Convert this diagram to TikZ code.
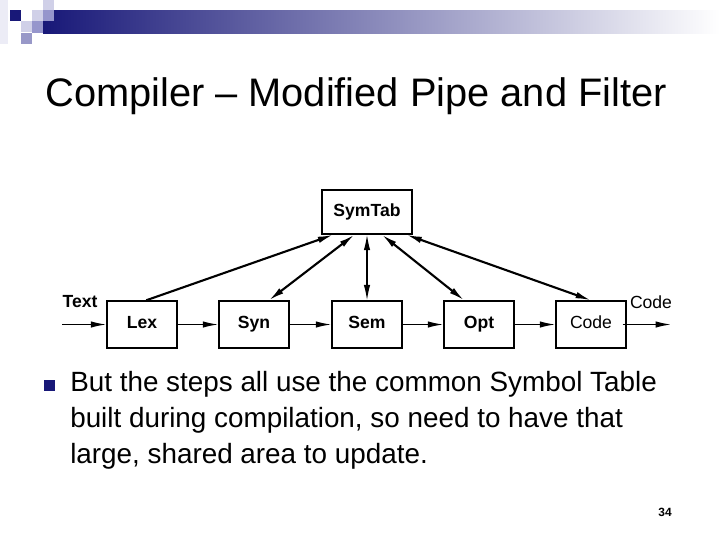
\documentclass[tikz,border=0pt]{standalone}
\usepackage{fontspec}
\setmainfont{Liberation Sans}
\usetikzlibrary{arrows.meta, positioning, calc}

\definecolor{slidenavy}{RGB}{24,24,120}
\definecolor{lightlav}{RGB}{208,208,232}
\definecolor{midlav}{RGB}{150,150,204}
\definecolor{greylav}{RGB}{152,152,200}

\begin{document}
\begin{tikzpicture}[
    x=0.025cm, y=-0.025cm,
    >={Latex[length=11pt,width=4.6pt]},
    stage/.style={draw, rectangle, minimum width=1.75cm, minimum height=1.175cm, inner sep=0pt, align=center, font=\fontsize{12.5}{14}\selectfont\bfseries, text height=8.9pt, text depth=2.6pt, fill=white, line width=1pt},
    symstore/.style={stage, minimum width=2.25cm, minimum height=1.1cm},
    pipe/.style={->, line width=1pt},
    link/.style={line width=1.5pt},
    tag/.style={font=\fontsize{12.5}{14}\selectfont\bfseries, inner sep=0pt}
]
\useasboundingbox (0,0) rectangle (720,540);

% -------------------------------------------------------------------------
% Slide header: squares and fading bar
% -------------------------------------------------------------------------
\fill[lightlav!40] (0,0) rectangle (8,44);
\shade[left color=slidenavy, right color=white] (43,10) rectangle (720,33);
\fill[slidenavy] (10,10) rectangle (21,21);
\fill[lightlav] (32,10) rectangle (43,21);
\fill[lightlav] (43,0) rectangle (54,10);
\fill[midlav] (43,10) rectangle (54,21);
\fill[lightlav] (21,21) rectangle (32,32);
\fill[midlav] (32,21) rectangle (43,33);
\fill[greylav] (21,33) rectangle (32,44);

% Title
\node[anchor=base west, inner sep=0pt, font=\fontsize{28.3}{32}\selectfont] (title) at (45,106) {Compiler -- Modified Pipe and Filter};

% -------------------------------------------------------------------------
% Pipeline row (y = 324) and symbol table
% -------------------------------------------------------------------------
\node[symstore] (SymTab) at (367,212) {SymTab};

\node[stage] (Lex) at (142,324.5) {Lex};
\node[stage] (Syn) at (254,324.5) {Syn};
\node[stage] (Sem) at (367,324.5) {Sem};
\node[stage] (Opt) at (479,324.5) {Opt};
\node[stage, font=\fontsize{12.5}{14}\selectfont] (Code) at (591,324.5) {Code};

% Outer labels and free ends
\node[tag] (TextIn) at (80,302) {Text};
\node[tag, font=\fontsize{12.5}{14}\selectfont] (CodeOut) at (651,302) {Code};
\coordinate (inStart) at (62,324.5);
\coordinate (outEnd) at (671,324.5);

% Pipes between filters
\draw[pipe] (inStart) -- (Lex.west);
\draw[pipe] (Lex.east) -- (Syn.west);
\draw[pipe] (Syn.east) -- (Sem.west);
\draw[pipe] (Sem.east) -- (Opt.west);
\draw[pipe] (Opt.east) -- (Code.west);
\draw[pipe] ([xshift=-3pt]Code.east) -- (outEnd);

% Links up to the shared symbol table
\draw[link, ->] ([xshift=3pt]Lex.north) -- ([xshift=-24pt]SymTab.south);
\draw[link, <->] ([xshift=10.6pt]Syn.north) -- ([xshift=-9pt]SymTab.south);
\draw[link, <->, line width=0.9pt] (Sem.north) -- (SymTab.south);
\draw[link, <->] ([xshift=-10.6pt]Opt.north) -- ([xshift=10.6pt]SymTab.south);
\draw[link, <->] (Code.north) -- ([xshift=28pt]SymTab.south);

% -------------------------------------------------------------------------
% Bullet text and page number
% -------------------------------------------------------------------------
\fill[slidenavy] (44,380) rectangle (55,391);
% base anchor sits on the last of the three lines
\node[anchor=base west, inner sep=0pt, align=left, font=\fontsize{19.8}{25.5}\selectfont] (body) at (70,463)
    {But the steps all use the common Symbol Table\\
     built during compilation, so need to have that\\
     large, shared area to update.};

\node[font=\fontsize{8.5}{10}\selectfont\bfseries] (pagenum) at (665,512) {34};

\end{tikzpicture}
\end{document}
